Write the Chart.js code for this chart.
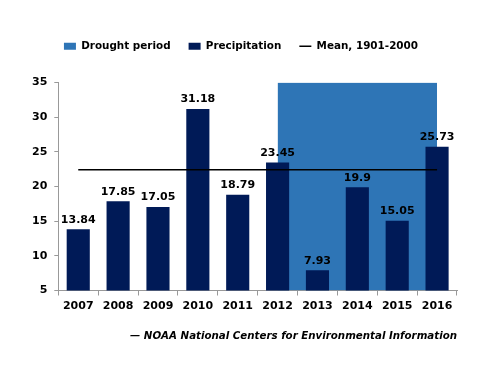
<!DOCTYPE html>
<html lang="en">
<head>
    <meta charset="UTF-8" />
    <title>Precipitation and drought</title>
    <script src="https://cdn.jsdelivr.net/npm/chart.js@4.4.0/dist/chart.umd.min.js"></script>
    <style>
        body { margin: 0; background: #fff; }
    </style>
</head>
<body>
    <canvas id="myChart" width="500" height="386"></canvas>

    <script>
        const years = ['2007', '2008', '2009', '2010', '2011', '2012', '2013', '2014', '2015', '2016'];
        const precipitation = [13.84, 17.85, 17.05, 31.18, 18.79, 23.45, 7.93, 19.9, 15.05, 25.73];
        // drought shading runs from 2012 to 2016, up to the top of the axis
        const drought = [null, null, null, null, null, 35, 35, 35, 35, 35];
        const meanValue = 22.4;
        const mean = years.map(() => meanValue);

        const font = { family: 'DejaVu Sans', size: 11, weight: 'bold' };

        // labels above the bars
        const barLabels = {
            id: 'barLabels',
            afterDatasetsDraw(chart) {
                const ctx = chart.ctx;
                const meta = chart.getDatasetMeta(1);
                ctx.save();
                ctx.font = 'bold 11px "DejaVu Sans"';
                ctx.fillStyle = '#000';
                ctx.textAlign = 'center';
                ctx.textBaseline = 'bottom';
                meta.data.forEach((bar, i) => {
                    ctx.fillText(String(precipitation[i]), bar.x, bar.y - 4);
                });
                ctx.restore();
            }
        };

        // extra room between the legend and the plot
        const legendGap = {
            id: 'legendGap',
            beforeInit(chart) {
                const fit = chart.legend.fit;
                chart.legend.fit = function () {
                    fit.bind(chart.legend)();
                    this.height += 21;
                };
            }
        };

        const ctx = document.getElementById('myChart').getContext('2d');
        const myChart = new Chart(ctx, {
            type: 'bar',
            data: {
                labels: years,
                datasets: [{
                    type: 'line',
                    label: 'Drought period',
                    data: drought,
                    borderWidth: 0,
                    borderColor: '#2e75b6',
                    backgroundColor: '#2e75b6',
                    pointRadius: 0,
                    fill: 'start',
                    order: 3
                }, {
                    label: 'Precipitation',
                    data: precipitation,
                    backgroundColor: '#001a57',
                    barPercentage: 0.58,
                    categoryPercentage: 1,
                    order: 2
                }, {
                    type: 'line',
                    label: 'Mean, 1901-2000',
                    data: mean,
                    borderColor: '#000',
                    backgroundColor: '#000',
                    borderWidth: 1.5,
                    pointRadius: 0,
                    fill: false,
                    order: 1
                }]
            },
            options: {
                responsive: false,
                animation: false,
                layout: { padding: { top: 23, left: 25, right: 43, bottom: 44 } },
                plugins: {
                    tooltip: { enabled: false },
                    legend: {
                        position: 'top',
                        labels: {
                            font: { family: 'DejaVu Sans', size: 10.4, weight: 'bold' },
                            color: '#000',
                            usePointStyle: true,
                            pointStyleWidth: 12,
                            boxHeight: 7,
                            padding: 18,
                            generateLabels: function (chart) {
                                return chart.data.datasets.map((ds, i) => ({
                                    text: ds.label,
                                    fillStyle: ds.backgroundColor,
                                    strokeStyle: i === 2 ? '#000' : ds.backgroundColor,
                                    lineWidth: i === 2 ? 1.5 : 0,
                                    pointStyle: i === 2 ? 'line' : 'rect',
                                    fontColor: '#000',
                                    datasetIndex: i
                                }));
                            }
                        }
                    },
                    title: {
                        display: true,
                        position: 'bottom',
                        align: 'end',
                        text: '\u2014 NOAA National Centers for Environmental Information',
                        color: '#000',
                        font: { family: 'DejaVu Sans', size: 10.25, weight: 'bold', style: 'italic' },
                        padding: { top: 13, bottom: 0 }
                    }
                },
                scales: {
                    x: {
                        grid: {
                            offset: true,
                            drawOnChartArea: false,
                            drawTicks: true,
                            tickLength: 5,
                            color: '#999'
                        },
                        border: { color: '#999' },
                        ticks: { font: font, color: '#000', padding: 4 }
                    },
                    y: {
                        min: 5,
                        max: 35,
                        ticks: { stepSize: 5, font: font, color: '#000', padding: 7 },
                        grid: {
                            drawOnChartArea: false,
                            drawTicks: true,
                            tickLength: 4,
                            color: '#999'
                        },
                        border: { color: '#999' }
                    }
                }
            },
            plugins: [barLabels, legendGap]
        });
    </script>
</body>
</html>
